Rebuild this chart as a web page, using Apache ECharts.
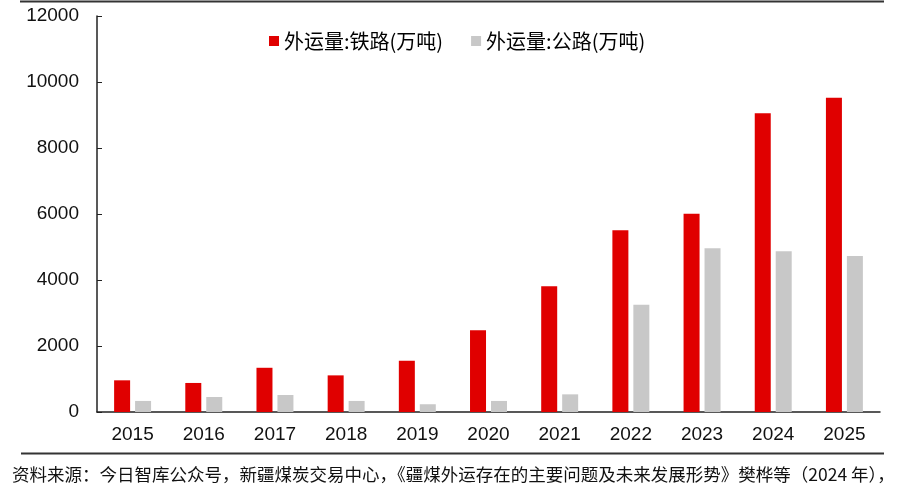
<!DOCTYPE html>
<html>

<head>
    <meta charset="utf-8" />
    <script src="https://cdn.jsdelivr.net/npm/echarts@6/dist/echarts.min.js"></script>
</head>

<body style="margin:0;background:#fff;">
    <div id="main" style="width: 900px;height: 500px;"></div>

    <script type="text/javascript">
        var years = ['2015', '2016', '2017', '2018', '2019', '2020', '2021', '2022', '2023', '2024', '2025'];
        var railName = '外运量:铁路(万吨)';
        var roadName = '外运量:公路(万吨)';
        var railValues = [960, 880, 1340, 1110, 1555, 2475, 3810, 5505, 6010, 9050, 9525];
        var roadValues = [335, 455, 515, 335, 235, 335, 535, 3250, 4960, 4870, 4725];
        var yTicks = [0, 12000, 2000]; // min, max, interval
        var sourceText = '资料来源：今日智库公众号，新疆煤炭交易中心，《疆煤外运存在的主要问题及未来发展形势》樊桦等（2024 年），';

        var chartDom = document.getElementById('main');
        var myChart = echarts.init(chartDom);
        var font = 'Liberation Sans, Arial, Noto Sans CJK SC, sans-serif';
        var option;

        option = {
            animation: false,
            backgroundColor: '#fff',
            textStyle: { fontFamily: font },
            grid: {
                left: 97,
                right: 20,
                top: 16,
                bottom: 88,
                containLabel: false
            },
            legend: {
                data: [railName, roadName],
                left: 264,
                top: 26,
                icon: 'rect',
                itemWidth: 10,
                itemHeight: 10,
                itemGap: 28,
                textStyle: { fontSize: 20, color: '#000', fontFamily: 'Noto Sans CJK SC' }
            },
            xAxis: {
                type: 'category',
                data: years,
                axisLine: { lineStyle: { color: '#222', width: 1.5 } },
                axisTick: { inside: true, length: 5, interval: 0, lineStyle: { color: '#222' } },
                axisLabel: { fontSize: 19, color: '#111', margin: 13, interval: 0 }
            },
            yAxis: {
                type: 'value',
                min: yTicks[0],
                max: yTicks[1],
                interval: yTicks[2],
                axisLine: { show: true, lineStyle: { color: '#222', width: 1.5 } },
                axisTick: { show: true, inside: true, length: 5, lineStyle: { color: '#222' } },
                splitLine: { show: false },
                axisLabel: {
                    fontSize: 19,
                    color: '#111',
                    margin: 18,
                    formatter: function (v) { return String(v); }
                }
            },
            series: [
                {
                    name: railName,
                    type: 'bar',
                    data: railValues,
                    barWidth: 16,
                    barGap: '31%',
                    itemStyle: { color: '#E00000' }
                },
                {
                    name: roadName,
                    type: 'bar',
                    data: roadValues,
                    barWidth: 16,
                    itemStyle: { color: '#C8C8C8' }
                }
            ],
            graphic: [
                {
                    type: 'line',
                    shape: { x1: 20, y1: 1.5, x2: 884, y2: 1.5 },
                    style: { stroke: '#333', lineWidth: 2 }
                },
                {
                    type: 'line',
                    shape: { x1: 21, y1: 453.5, x2: 884, y2: 453.5 },
                    style: { stroke: '#333', lineWidth: 2 }
                },
                {
                    type: 'text',
                    left: 12,
                    top: 466,
                    style: {
                        text: sourceText,
                        fontSize: 17.5,
                        fill: '#111',
                        fontFamily: 'Noto Sans CJK SC'
                    }
                }
            ]
        };

        option && myChart.setOption(option);
    </script>
</body>
</html>
